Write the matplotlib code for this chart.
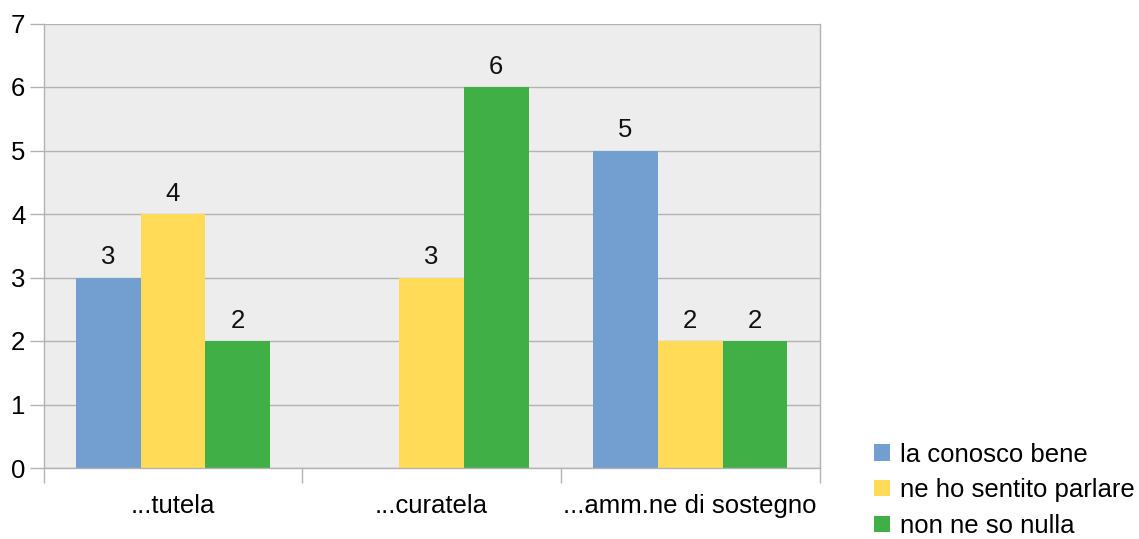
import matplotlib.pyplot as plt
import numpy as np

plt.rcParams['font.family'] = ['Liberation Sans', 'DejaVu Sans']

# categories and answers
categories = ['...tutela', '...curatela', '...amm.ne di sostegno']
series_names = ['la conosco bene', 'ne ho sentito parlare', 'non ne so nulla']
conosco = [3, 0, 5]
sentito = [4, 3, 2]
nulla = [2, 6, 2]
colors = ['#729fcf', '#ffdb58', '#3faf46']

fs = 18.5
fig = plt.figure(figsize=(11.39, 5.39), dpi=100)
ax = fig.add_axes([43.5 / 1139, 71 / 539, (819.5 - 43.5) / 1139, (468 - 23.5) / 539])

x = np.arange(len(categories))
width = 0.25
grid_c = '#b3b3b3'

ax.set_facecolor('#ededed')
ax.set_axisbelow(True)
ax.grid(axis='y', color=grid_c, linewidth=1)

for i, (vals, name, c) in enumerate(zip([conosco, sentito, nulla], series_names, colors)):
    bars = ax.bar(x + (i - 1) * width, vals, width, color=c, label=name, linewidth=0)
    for rect, v in zip(bars, vals):
        if v == 0:
            continue
        ax.annotate(f'{v}', xy=(rect.get_x() + rect.get_width() / 2, v),
                    xytext=(0, 6), textcoords='offset points',
                    ha='center', va='bottom', fontsize=fs, color='#111111')

ax.set_xlim(-0.5, len(categories) - 0.5)
ax.set_ylim(0, 7)
ax.set_yticks(range(0, 8))

# category boundaries as x ticks, labels in between
ax.set_xticks(np.arange(-0.5, len(categories), 1.0))
ax.set_xticklabels([])
ax.set_xticks(x, minor=True)
ax.set_xticklabels(categories, minor=True)
ax.tick_params(axis='x', which='minor', length=0, pad=19, labelsize=fs)
ax.tick_params(axis='x', which='major', length=11, width=1, color=grid_c)
ax.tick_params(axis='y', length=10, width=1, color=grid_c, labelsize=fs, pad=3)

for s in ax.spines.values():
    s.set_color(grid_c)
    s.set_linewidth(1)
ax.spines['top'].set_visible(False)

ax.legend(loc='lower left', bbox_to_anchor=(864 / 1139, -9 / 539), bbox_transform=fig.transFigure,
          frameon=False, fontsize=fs, handlelength=0.6, handleheight=0.6,
          handletextpad=0.4, labelspacing=0.45, borderaxespad=0.0)

fig.savefig('out.png', dpi=100)
